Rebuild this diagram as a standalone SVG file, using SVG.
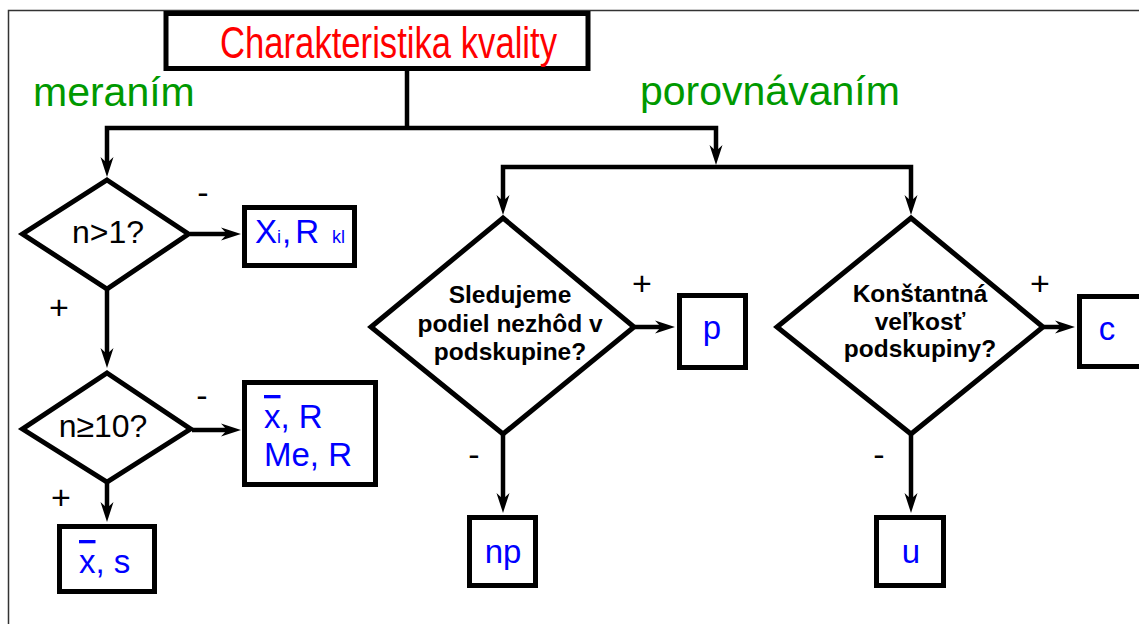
<svg xmlns="http://www.w3.org/2000/svg" width="1139" height="624" viewBox="0 0 1139 624">
<style>
.shape{fill:#fff;stroke:#000;stroke-width:5;stroke-linejoin:miter}
.conn{fill:none;stroke:#000;stroke-width:4.5;stroke-linejoin:miter}
.t{font-family:"Liberation Sans",Arial,sans-serif}
.green{fill:#009900;font-size:41px}
.blue{fill:#0000ff;font-size:33px}
.black{fill:#000;font-size:32px}
.bold{fill:#000;font-size:24.5px;font-weight:bold}
.sign{fill:#000;font-size:34px}
.sub{font-size:18px}
.ov{text-decoration:overline}
</style>
<defs>
<marker id="arr" markerUnits="userSpaceOnUse" markerWidth="30" markerHeight="20" viewBox="-10 -10 24 20" refX="0" refY="0" orient="auto">
<path d="M12,0 L-8,-6.5 L-2,0 L-8,6.5 Z" fill="#000"/>
</marker>
</defs>
<rect x="8.5" y="10.5" width="1145" height="630" fill="#fff" stroke="#333" stroke-width="1.5"/>

<g id="connectors">
<path class="conn" d="M407,71 V128"/>
<path class="conn" d="M407,128 H107 V165" marker-end="url(#arr)"/>
<path class="conn" d="M407,128 H716 V153" marker-end="url(#arr)"/>
<path class="conn" d="M716,167 H503 V203" marker-end="url(#arr)"/>
<path class="conn" d="M716,167 H911 V203" marker-end="url(#arr)"/>
<path class="conn" d="M190,234 H229" marker-end="url(#arr)"/>
<path class="conn" d="M107,290 V356" marker-end="url(#arr)"/>
<path class="conn" d="M192,430 H229" marker-end="url(#arr)"/>
<path class="conn" d="M107,483 V510" marker-end="url(#arr)"/>
<path class="conn" d="M635,327 H663" marker-end="url(#arr)"/>
<path class="conn" d="M503,435 V501" marker-end="url(#arr)"/>
<path class="conn" d="M1044,327 H1063" marker-end="url(#arr)"/>
<path class="conn" d="M911,435 V501" marker-end="url(#arr)"/>
<text class="t sign" x="203" y="204" text-anchor="middle">-</text>
<text class="t sign" x="59" y="319" text-anchor="middle">+</text>
<text class="t sign" x="202" y="407" text-anchor="middle">-</text>
<text class="t sign" x="61" y="509" text-anchor="middle">+</text>
<text class="t sign" x="642" y="295" text-anchor="middle">+</text>
<text class="t sign" x="474" y="466" text-anchor="middle">-</text>
<text class="t sign" x="1040" y="295" text-anchor="middle">+</text>
<text class="t sign" x="879" y="466" text-anchor="middle">-</text>
</g>

<g id="title">
<rect class="shape" x="166" y="13.5" width="422" height="55"/>
<text class="t" x="220" y="58" font-size="44" fill="#ff0000" textLength="337" lengthAdjust="spacingAndGlyphs">Charakteristika kvality</text>
</g>

<g id="label-meranim">
<text class="t green" x="33" y="106">meraním</text>
</g>
<g id="label-porovnavanim">
<text class="t green" x="640" y="105">porovnávaním</text>
</g>

<g id="d1">
<polygon class="shape" points="107,180 188.5,234 107,289 22.5,234"/>
<text class="t black" x="108" y="243" text-anchor="middle">n&gt;1?</text>
</g>

<g id="b-xi">
<rect class="shape" x="244.5" y="207.5" width="110" height="58"/>
<text class="t blue" y="243"><tspan x="255">X</tspan><tspan class="sub" x="277">i</tspan><tspan x="282" style="word-spacing:-5px">, R</tspan><tspan class="sub" x="332">kl</tspan></text>
</g>

<g id="d2">
<polygon class="shape" points="107,373 190.5,429 107,482 22.5,429"/>
<text class="t black" x="103" y="437" text-anchor="middle">n≥10?</text>
</g>

<g id="b-xr">
<rect class="shape" x="244.5" y="382.5" width="131" height="102"/>
<text class="t blue" x="264" y="428"><tspan class="ov">x</tspan>, R</text>
<text class="t blue" x="264" y="466">Me, R</text>
</g>

<g id="b-xs">
<rect class="shape" x="59.5" y="526.5" width="95" height="65"/>
<text class="t blue" x="79" y="573"><tspan class="ov">x</tspan>, s</text>
</g>

<g id="d3">
<polygon class="shape" points="503,218 634,327 503,434 371,327"/>
<text class="t bold" text-anchor="middle"><tspan x="510" y="303">Sledujeme</tspan><tspan x="510" y="332">podiel nezhôd v</tspan><tspan x="510" y="360">podskupine?</tspan></text>
</g>

<g id="b-p">
<rect class="shape" x="679.5" y="295.5" width="66" height="72"/>
<text class="t blue" x="712" y="339" text-anchor="middle">p</text>
</g>

<g id="b-np">
<rect class="shape" x="469.5" y="517.5" width="66" height="68"/>
<text class="t blue" x="503" y="563" text-anchor="middle">np</text>
</g>

<g id="d4">
<polygon class="shape" points="911,218 1043,327 911,434 777,327"/>
<text class="t bold" text-anchor="middle"><tspan x="920" y="302">Konštantná</tspan><tspan x="920" y="330">veľkosť</tspan><tspan x="920" y="357">podskupiny?</tspan></text>
</g>

<g id="b-c">
<rect class="shape" x="1079.5" y="296.5" width="80" height="70"/>
<text class="t blue" x="1107" y="340" text-anchor="middle">c</text>
</g>

<g id="b-u">
<rect class="shape" x="876.5" y="517.5" width="67" height="68"/>
<text class="t blue" x="911" y="563" text-anchor="middle">u</text>
</g>
</svg>
